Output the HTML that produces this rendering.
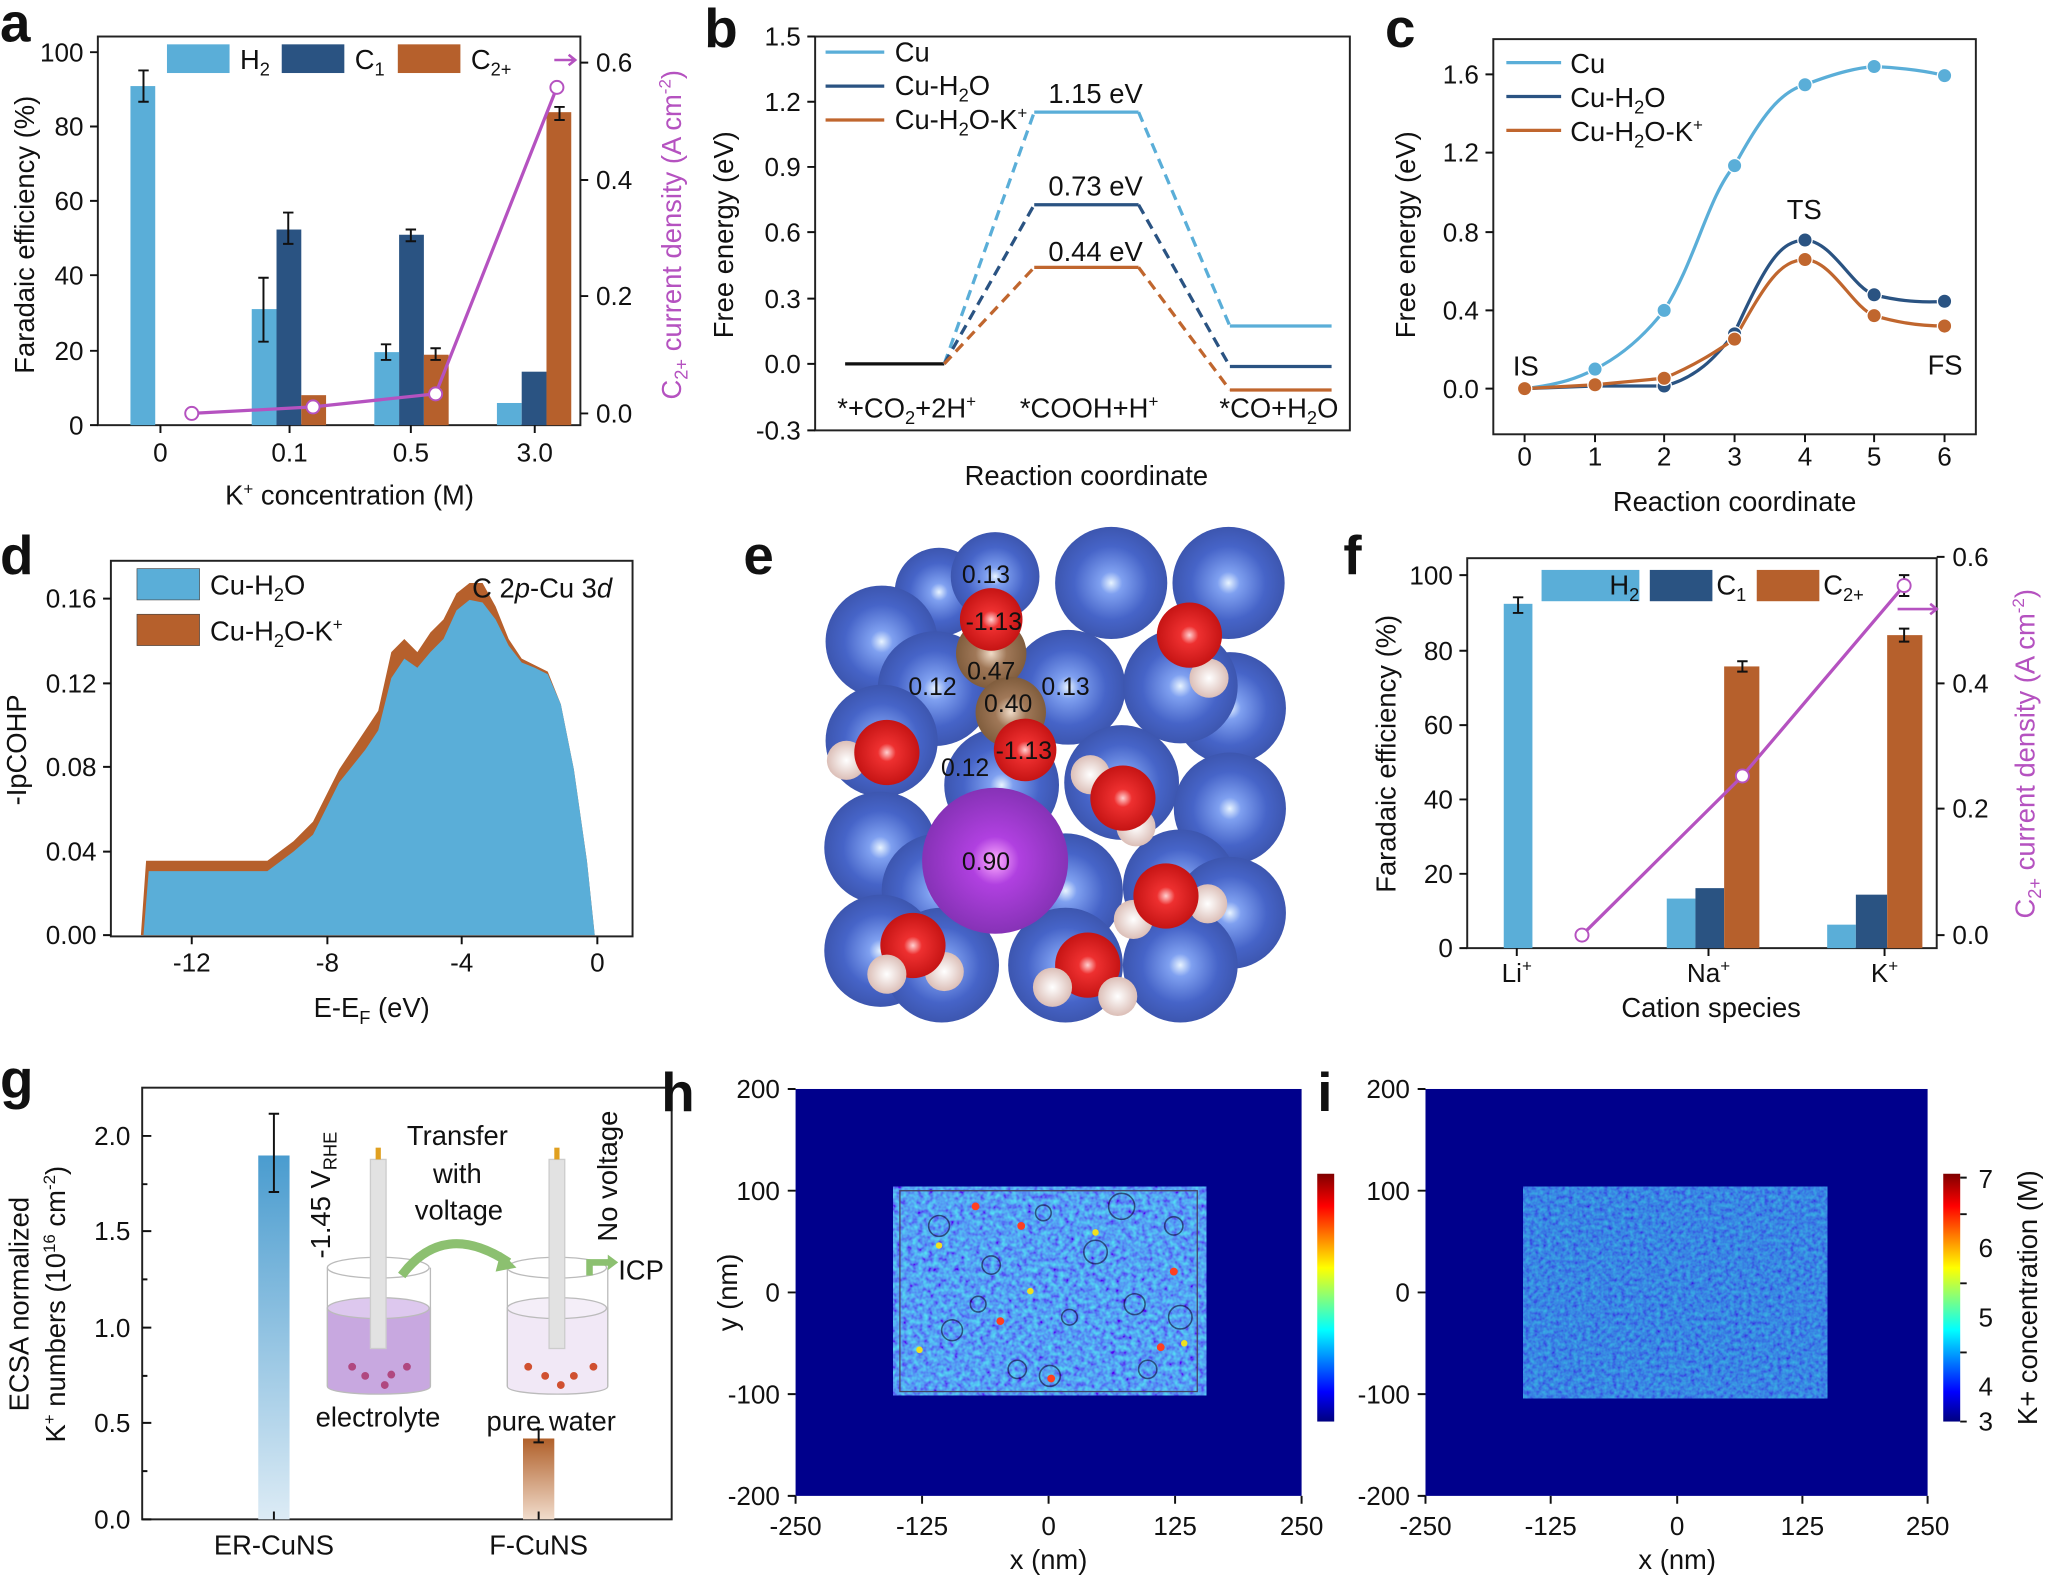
<!DOCTYPE html>
<html><head><meta charset="utf-8"><style>
html,body{margin:0;padding:0;background:#fff}
svg{display:block}
text{font-family:"Liberation Sans",Arial,sans-serif;fill:#111}
.t{font-size:20px}
.ti{font-size:21px}
.L{font-size:42px;font-weight:bold}
</style></head><body>
<svg width="2045" height="1580" viewBox="0 0 1568 1211.5" xmlns="http://www.w3.org/2000/svg">
<defs>
<radialGradient id="cu" cx="0.5" cy="0.5" r="0.55"><stop offset="0" stop-color="#e8f4ff"/><stop offset="0.18" stop-color="#7fa0f0"/><stop offset="0.6" stop-color="#4664c8"/><stop offset="1" stop-color="#3a52a8"/></radialGradient>
<radialGradient id="ox" cx="0.5" cy="0.5" r="0.55"><stop offset="0" stop-color="#ffd0d0"/><stop offset="0.25" stop-color="#ee3030"/><stop offset="1" stop-color="#c01010"/></radialGradient>
<radialGradient id="hy" cx="0.5" cy="0.5" r="0.55"><stop offset="0" stop-color="#fff"/><stop offset="1" stop-color="#d8b8b0"/></radialGradient>
<radialGradient id="kk" cx="0.5" cy="0.5" r="0.55"><stop offset="0" stop-color="#ffb0ff"/><stop offset="0.3" stop-color="#b040e0"/><stop offset="1" stop-color="#8030b0"/></radialGradient>
<radialGradient id="cc" cx="0.5" cy="0.5" r="0.55"><stop offset="0" stop-color="#f0dcc8"/><stop offset="0.4" stop-color="#a07858"/><stop offset="1" stop-color="#7a5838"/></radialGradient>
<linearGradient id="gb" x1="0" y1="0" x2="0" y2="1"><stop offset="0" stop-color="#4a9ccf"/><stop offset="1" stop-color="#dcebf5"/></linearGradient>
<linearGradient id="go" x1="0" y1="0" x2="0" y2="1"><stop offset="0" stop-color="#b0602a"/><stop offset="1" stop-color="#f1dccc"/></linearGradient>
<linearGradient id="jet" x1="0" y1="1" x2="0" y2="0"><stop offset="0" stop-color="#00007f"/><stop offset="0.12" stop-color="#0000ff"/><stop offset="0.37" stop-color="#00ffff"/><stop offset="0.62" stop-color="#ffff00"/><stop offset="0.87" stop-color="#ff0000"/><stop offset="1" stop-color="#7f0000"/></linearGradient>
<filter id="noise1" x="0" y="0" width="100%" height="100%"><feTurbulence type="fractalNoise" baseFrequency="0.25" numOctaves="2" seed="3"/><feColorMatrix type="matrix" values="0 0 0 0 0.1  0 0 0 1.2 -0.2  0 0 0 0 0.95  0 0 0 0 1"/></filter>
<filter id="noise2" x="0" y="0" width="100%" height="100%"><feTurbulence type="fractalNoise" baseFrequency="0.3" numOctaves="2" seed="7"/><feColorMatrix type="matrix" values="0 0 0 0 0.05  0 0 0 0.7 -0.05  0 0 0 0 0.85  0 0 0 0 1"/></filter>
</defs>

<!-- ============ a ============ -->
<text x="0" y="32" class="L">a</text>
<rect x="75" y="28" width="370" height="298" fill="none" stroke="#222" stroke-width="1.5"/>
<g fill="#5aaed8">
<rect x="100" y="66" width="19" height="260"/><rect x="193" y="237" width="19" height="89"/><rect x="287" y="270" width="19" height="56"/><rect x="381" y="309" width="19" height="17"/></g>
<g fill="#2a5382"><rect x="212" y="176" width="19" height="150"/><rect x="306" y="180" width="19" height="146"/><rect x="400" y="285" width="19" height="41"/></g>
<g fill="#b6602c"><rect x="231" y="303" width="19" height="23"/><rect x="325" y="272" width="19" height="54"/><rect x="419" y="86" width="19" height="240"/></g>
<g stroke="#111" stroke-width="1.5" fill="none">
<path d="M110 54v24M106 54h8M106 78h8M202 213v49M198 213h8M198 262h8M221 163v24M217 163h8M217 187h8M296 264v12M292 264h8M292 276h8M315 176v9M311 176h8M311 185h8M334 267v9M330 267h8M330 276h8M429 82v10M425 82h8M425 92h8"/>
<path d="M75 326h-6M75 269h-6M75 211h-6M75 154h-6M75 97h-6M75 40h-6M445 317h6M445 227h6M445 138h6M445 48h6M123 326v6M222 326v6M315 326v6M410 326v6"/>
</g>
<polyline points="147,317 240,312 334,302 427,67" fill="none" stroke="#b552c0" stroke-width="2.5"/>
<g fill="#fff" stroke="#b552c0" stroke-width="1.5"><circle cx="147" cy="317" r="5"/><circle cx="240" cy="312" r="5"/><circle cx="334" cy="302" r="5"/><circle cx="427" cy="67" r="5"/></g>
<path d="M425 46h16M436 42l5 4-5 4" stroke="#b552c0" stroke-width="2" fill="none"/>
<g class="t" text-anchor="end"><text x="64" y="333">0</text><text x="64" y="276">20</text><text x="64" y="218">40</text><text x="64" y="161">60</text><text x="64" y="104">80</text><text x="64" y="47">100</text></g>
<g class="t"><text x="457" y="324">0.0</text><text x="457" y="234">0.2</text><text x="457" y="145">0.4</text><text x="457" y="55">0.6</text></g>
<g class="t" text-anchor="middle"><text x="123" y="354">0</text><text x="222" y="354">0.1</text><text x="315" y="354">0.5</text><text x="410" y="354">3.0</text></g>
<text x="268" y="387" class="ti" text-anchor="middle">K<tspan font-size="13" dy="-8">+</tspan><tspan dy="8"> concentration (M)</tspan></text>
<text transform="translate(26,180) rotate(-90)" class="ti" text-anchor="middle">Faradaic efficiency (%)</text>
<text transform="translate(522,180) rotate(-90)" class="ti" text-anchor="middle" style="fill:#b552c0">C<tspan font-size="14" dy="5">2+</tspan><tspan dy="-5"> current density (A cm</tspan><tspan font-size="13" dy="-8">-2</tspan><tspan dy="8">)</tspan></text>
<rect x="128" y="34" width="48" height="22" fill="#5aaed8"/><text x="184" y="53" class="ti">H<tspan font-size="14" dy="5">2</tspan></text>
<rect x="216" y="34" width="48" height="22" fill="#2a5382"/><text x="272" y="53" class="ti">C<tspan font-size="14" dy="5">1</tspan></text>
<rect x="305" y="34" width="48" height="22" fill="#b6602c"/><text x="361" y="53" class="ti">C<tspan font-size="14" dy="5">2+</tspan></text>

<!-- ============ b ============ -->
<text x="540" y="36" class="L">b</text>
<rect x="625" y="28" width="410" height="302" fill="none" stroke="#222" stroke-width="1.5"/>
<g stroke="#111" stroke-width="1.5"><path d="M625 28h-6M625 78h-6M625 128h-6M625 178h-6M625 229h-6M625 279h-6M625 330h-6"/></g>
<g class="t" text-anchor="end"><text x="614" y="35">1.5</text><text x="614" y="85">1.2</text><text x="614" y="135">0.9</text><text x="614" y="185">0.6</text><text x="614" y="236">0.3</text><text x="614" y="286">0.0</text><text x="614" y="337">-0.3</text></g>
<text transform="translate(562,180) rotate(-90)" class="ti" text-anchor="middle">Free energy (eV)</text>
<text x="833" y="372" class="ti" text-anchor="middle">Reaction coordinate</text>
<path d="M648 279h76" stroke="#111" stroke-width="2.5"/>
<g stroke-width="2.5" fill="none">
<path d="M793 86h80" stroke="#5aaed8"/><path d="M724 279L793 86M873 86L943 250" stroke="#5aaed8" stroke-dasharray="8,5"/><path d="M943 250h78" stroke="#5aaed8"/>
<path d="M793 157h80" stroke="#2a5382"/><path d="M724 279L793 157M873 157L943 281" stroke="#2a5382" stroke-dasharray="8,5"/><path d="M943 281h78" stroke="#2a5382"/>
<path d="M793 205h80" stroke="#c0662e"/><path d="M724 279L793 205M873 205L943 299" stroke="#c0662e" stroke-dasharray="8,5"/><path d="M943 299h78" stroke="#c0662e"/>
</g>
<g class="ti" text-anchor="middle"><text x="840" y="79">1.15 eV</text><text x="840" y="150">0.73 eV</text><text x="840" y="200">0.44 eV</text></g>
<g class="ti"><text x="642" y="320">*+CO<tspan font-size="14" dy="5">2</tspan><tspan dy="-5">+2H</tspan><tspan font-size="13" dy="-8">+</tspan></text><text x="782" y="320">*COOH+H<tspan font-size="13" dy="-8">+</tspan></text><text x="935" y="320">*CO+H<tspan font-size="14" dy="5">2</tspan><tspan dy="-5">O</tspan></text></g>
<g stroke-width="2.5"><path d="M633 40h45" stroke="#5aaed8"/><path d="M633 66h45" stroke="#2a5382"/><path d="M633 92h45" stroke="#c0662e"/></g>
<g class="ti"><text x="686" y="47">Cu</text><text x="686" y="73">Cu-H<tspan font-size="14" dy="5">2</tspan><tspan dy="-5">O</tspan></text><text x="686" y="99">Cu-H<tspan font-size="14" dy="5">2</tspan><tspan dy="-5">O-K</tspan><tspan font-size="13" dy="-8">+</tspan></text></g>

<!-- ============ c ============ -->
<text x="1062" y="36" class="L">c</text>
<rect x="1145" y="30" width="370" height="303" fill="none" stroke="#222" stroke-width="1.5"/>
<g stroke="#111" stroke-width="1.5"><path d="M1145 298h-6M1145 238h-6M1145 178h-6M1145 117h-6M1145 57h-6M1169 333v6M1223 333v6M1276 333v6M1330 333v6M1384 333v6M1437 333v6M1491 333v6"/></g>
<g class="t" text-anchor="end"><text x="1134" y="305">0.0</text><text x="1134" y="245">0.4</text><text x="1134" y="185">0.8</text><text x="1134" y="124">1.2</text><text x="1134" y="64">1.6</text></g>
<g class="t" text-anchor="middle"><text x="1169" y="357">0</text><text x="1223" y="357">1</text><text x="1276" y="357">2</text><text x="1330" y="357">3</text><text x="1384" y="357">4</text><text x="1437" y="357">5</text><text x="1491" y="357">6</text></g>
<text transform="translate(1085,180) rotate(-90)" class="ti" text-anchor="middle">Free energy (eV)</text>
<text x="1330" y="392" class="ti" text-anchor="middle">Reaction coordinate</text>
<g fill="none" stroke-width="2.5">
<path d="M1169 298C1195 295 1210 290 1223 283C1245 272 1262 256 1276 238C1300 200 1310 150 1330 127C1350 90 1365 70 1384 65C1410 55 1425 52 1437 51C1460 52 1480 55 1491 58" stroke="#5aaed8"/>
<path d="M1169 298L1223 296L1276 296C1300 290 1315 275 1330 255C1355 200 1365 185 1384 184C1405 185 1420 220 1437 226C1460 232 1480 232 1491 231" stroke="#2a5382"/>
<path d="M1169 298L1223 295L1276 290C1300 280 1315 270 1330 260C1355 215 1365 200 1384 199C1405 200 1420 235 1437 242C1460 249 1480 250 1491 250" stroke="#c0662e"/>
</g>
<g stroke="#fff" stroke-width="1"><g fill="#5aaed8"><circle cx="1223" cy="283" r="5.5"/><circle cx="1276" cy="238" r="5.5"/><circle cx="1330" cy="127" r="5.5"/><circle cx="1384" cy="65" r="5.5"/><circle cx="1437" cy="51" r="5.5"/><circle cx="1491" cy="58" r="5.5"/></g>
<g fill="#2a5382"><circle cx="1276" cy="296" r="5.5"/><circle cx="1330" cy="256" r="5.5"/><circle cx="1384" cy="184" r="5.5"/><circle cx="1437" cy="226" r="5.5"/><circle cx="1491" cy="231" r="5.5"/></g>
<g fill="#c0662e"><circle cx="1169" cy="298" r="5.5"/><circle cx="1223" cy="295" r="5.5"/><circle cx="1276" cy="290" r="5.5"/><circle cx="1330" cy="260" r="5.5"/><circle cx="1384" cy="199" r="5.5"/><circle cx="1437" cy="242" r="5.5"/><circle cx="1491" cy="250" r="5.5"/></g></g>
<g class="ti"><text x="1160" y="288">IS</text><text x="1370" y="168">TS</text><text x="1478" y="287">FS</text></g>
<g stroke-width="2.5"><path d="M1155 48h42" stroke="#5aaed8"/><path d="M1155 74h42" stroke="#2a5382"/><path d="M1155 100h42" stroke="#c0662e"/></g>
<g class="ti"><text x="1204" y="56">Cu</text><text x="1204" y="82">Cu-H<tspan font-size="14" dy="5">2</tspan><tspan dy="-5">O</tspan></text><text x="1204" y="108">Cu-H<tspan font-size="14" dy="5">2</tspan><tspan dy="-5">O-K</tspan><tspan font-size="13" dy="-8">+</tspan></text></g>

<!-- ============ d ============ -->
<text x="0" y="440" class="L">d</text>
<rect x="85" y="430" width="400" height="288" fill="none" stroke="#222" stroke-width="1.5"/>
<path d="M108 717L112 660L205 660L225 645L240 630L260 590L280 560L290 545L300 500L310 490L320 500L330 485L340 475L350 455L360 447L370 447L380 465L390 490L400 505L410 510L420 515L430 540L440 590L450 660L456 717Z" fill="#b6602c"/>
<path d="M110 717L114 668L205 668L225 653L240 640L260 600L280 575L290 560L300 520L310 505L320 512L330 500L340 490L350 468L360 460L370 462L380 475L390 495L400 508L410 512L420 517L430 540L440 590L450 660L456 717Z" fill="#5aaed8"/>
<g stroke="#111" stroke-width="1.5"><path d="M85 717h-6M85 653h-6M85 588h-6M85 524h-6M85 459h-6M147 718v6M251 718v6M354 718v6M458 718v6"/></g>
<g class="t" text-anchor="end"><text x="74" y="724">0.00</text><text x="74" y="660">0.04</text><text x="74" y="595">0.08</text><text x="74" y="531">0.12</text><text x="74" y="466">0.16</text></g>
<g class="t" text-anchor="middle"><text x="147" y="745">-12</text><text x="251" y="745">-8</text><text x="354" y="745">-4</text><text x="458" y="745">0</text></g>
<text transform="translate(20,575) rotate(-90)" class="ti" text-anchor="middle">-IpCOHP</text>
<text x="285" y="780" class="ti" text-anchor="middle">E-E<tspan font-size="14" dy="5">F</tspan><tspan dy="-5"> (eV)</tspan></text>
<rect x="105" y="436" width="48" height="24" fill="#5aaed8" stroke="#444" stroke-width="0.5"/><text x="161" y="456" class="ti">Cu-H<tspan font-size="14" dy="5">2</tspan><tspan dy="-5">O</tspan></text>
<rect x="105" y="471" width="48" height="24" fill="#b6602c" stroke="#444" stroke-width="0.5"/><text x="161" y="491" class="ti">Cu-H<tspan font-size="14" dy="5">2</tspan><tspan dy="-5">O-K</tspan><tspan font-size="13" dy="-8">+</tspan></text>
<text x="362" y="458" class="ti">C 2<tspan font-style="italic">p</tspan>-Cu 3<tspan font-style="italic">d</tspan></text>

<!-- ============ e ============ -->
<text x="570" y="440" class="L">e</text>
<g>
<g fill="url(#cu)">
<circle cx="720" cy="454" r="34"/><circle cx="763" cy="442" r="34"/><circle cx="852" cy="447" r="43"/><circle cx="942" cy="447" r="43"/>
<circle cx="676" cy="492" r="43"/><circle cx="943" cy="543" r="43"/><circle cx="717" cy="528" r="44"/><circle cx="819" cy="527" r="44"/><circle cx="905" cy="526" r="44"/>
<circle cx="676" cy="568" r="43"/><circle cx="768" cy="602" r="44"/><circle cx="860" cy="600" r="44"/><circle cx="943" cy="620" r="43"/>
<circle cx="675" cy="650" r="43"/><circle cx="720" cy="683" r="44"/><circle cx="817" cy="683" r="44"/><circle cx="905" cy="680" r="44"/><circle cx="943" cy="700" r="43"/>
<circle cx="675" cy="729" r="43"/><circle cx="722" cy="740" r="44"/><circle cx="817" cy="740" r="44"/><circle cx="905" cy="740" r="44"/>
</g>
<circle cx="760" cy="501" r="27" fill="url(#cc)"/><circle cx="775" cy="546" r="27" fill="url(#cc)"/>
<circle cx="760" cy="475" r="24" fill="url(#ox)"/><circle cx="786" cy="575" r="24" fill="url(#ox)"/>
<circle cx="763" cy="660" r="56" fill="url(#kk)"/>
<circle cx="649" cy="583" r="15" fill="url(#hy)"/><circle cx="680" cy="577" r="25" fill="url(#ox)"/>
<circle cx="927" cy="520" r="15" fill="url(#hy)"/><circle cx="912" cy="487" r="25" fill="url(#ox)"/>
<circle cx="836" cy="594" r="15" fill="url(#hy)"/><circle cx="871" cy="634" r="15" fill="url(#hy)"/><circle cx="861" cy="612" r="25" fill="url(#ox)"/>
<circle cx="869" cy="705" r="15" fill="url(#hy)"/><circle cx="926" cy="693" r="15" fill="url(#hy)"/><circle cx="894" cy="687" r="25" fill="url(#ox)"/>
<circle cx="724" cy="745" r="15" fill="url(#hy)"/><circle cx="700" cy="725" r="25" fill="url(#ox)"/><circle cx="680" cy="747" r="15" fill="url(#hy)"/>
<circle cx="834" cy="740" r="25" fill="url(#ox)"/><circle cx="807" cy="757" r="15" fill="url(#hy)"/><circle cx="857" cy="764" r="15" fill="url(#hy)"/>
<g class="t" text-anchor="middle" font-size="19"><text x="756" y="447" font-size="19">0.13</text><text x="762" y="483" font-size="19">-1.13</text><text x="760" y="521" font-size="19">0.47</text><text x="715" y="533" font-size="19">0.12</text><text x="817" y="533" font-size="19">0.13</text><text x="773" y="546" font-size="19">0.40</text><text x="785" y="582" font-size="19">-1.13</text><text x="740" y="595" font-size="19">0.12</text><text x="756" y="667" font-size="19">0.90</text></g>
</g>

<!-- ============ f ============ -->
<text x="1030" y="440" class="L">f</text>
<rect x="1125" y="428" width="360" height="299" fill="none" stroke="#222" stroke-width="1.5"/>
<rect x="1153" y="463" width="22" height="264" fill="#5aaed8"/>
<rect x="1278" y="689" width="22" height="38" fill="#5aaed8"/><rect x="1300" y="681" width="22" height="46" fill="#2a5382"/><rect x="1322" y="511" width="27" height="216" fill="#b6602c"/>
<rect x="1401" y="709" width="22" height="18" fill="#5aaed8"/><rect x="1423" y="686" width="24" height="41" fill="#2a5382"/><rect x="1447" y="487" width="27" height="240" fill="#b6602c"/>
<g stroke="#111" stroke-width="1.5" fill="none"><path d="M1164 458v12M1160 458h8M1160 470h8M1336 507v8M1332 507h8M1332 515h8M1460 482v10M1456 482h8M1456 492h8M1460 441v16M1456 441h8M1456 457h8"/>
<path d="M1125 727h-6M1125 670h-6M1125 613h-6M1125 556h-6M1125 499h-6M1125 441h-6M1485 717h6M1485 620h6M1485 524h6M1485 427h6M1163 727v6M1310 727v6M1445 727v6"/></g>
<polyline points="1213,717 1336,595 1460,449" fill="none" stroke="#b552c0" stroke-width="2.5"/>
<g fill="#fff" stroke="#b552c0" stroke-width="1.5"><circle cx="1213" cy="717" r="5"/><circle cx="1336" cy="595" r="5"/><circle cx="1460" cy="449" r="5"/></g>
<path d="M1455 467h30M1480 463l5 4-5 4" stroke="#b552c0" stroke-width="2" fill="none"/>
<g class="t" text-anchor="end"><text x="1114" y="734">0</text><text x="1114" y="677">20</text><text x="1114" y="620">40</text><text x="1114" y="563">60</text><text x="1114" y="506">80</text><text x="1114" y="448">100</text></g>
<g class="t"><text x="1497" y="724">0.0</text><text x="1497" y="627">0.2</text><text x="1497" y="531">0.4</text><text x="1497" y="434">0.6</text></g>
<g class="t" text-anchor="middle"><text x="1163" y="753">Li<tspan font-size="13" dy="-8">+</tspan></text><text x="1310" y="753">Na<tspan font-size="13" dy="-8">+</tspan></text><text x="1445" y="753">K<tspan font-size="13" dy="-8">+</tspan></text></g>
<text x="1312" y="780" class="ti" text-anchor="middle">Cation species</text>
<text transform="translate(1070,578) rotate(-90)" class="ti" text-anchor="middle">Faradaic efficiency (%)</text>
<text transform="translate(1560,578) rotate(-90)" class="ti" text-anchor="middle" style="fill:#b552c0">C<tspan font-size="14" dy="5">2+</tspan><tspan dy="-5"> current density (A cm</tspan><tspan font-size="13" dy="-8">-2</tspan><tspan dy="8">)</tspan></text>
<rect x="1182" y="437" width="75" height="24" fill="#5aaed8"/><text x="1234" y="456" class="ti">H<tspan font-size="14" dy="5">2</tspan></text>
<rect x="1265" y="437" width="48" height="24" fill="#2a5382"/><text x="1316" y="456" class="ti">C<tspan font-size="14" dy="5">1</tspan></text>
<rect x="1347" y="437" width="48" height="24" fill="#b6602c"/><text x="1398" y="456" class="ti">C<tspan font-size="14" dy="5">2+</tspan></text>

<!-- ============ g ============ -->
<text x="0" y="842" class="L">g</text>
<rect x="109" y="834" width="406" height="331" fill="none" stroke="#222" stroke-width="1.5"/>
<rect x="198" y="886" width="24" height="279" fill="url(#gb)"/>
<rect x="401" y="1103" width="24" height="62" fill="url(#go)"/>
<g stroke="#111" stroke-width="1.5" fill="none"><path d="M210 854v60M206 854h8M206 914h8M413 1096v10M409 1096h8M409 1106h8"/>
<path d="M109 1165h7M109 1091h7M109 1018h7M109 944h7M109 871h7M109 1128h4M109 1055h4M109 981h4M109 908h4M210 1165v-6M413 1165v-6"/></g>
<g class="t" text-anchor="end"><text x="100" y="1172">0.0</text><text x="100" y="1098">0.5</text><text x="100" y="1025">1.0</text><text x="100" y="951">1.5</text><text x="100" y="878">2.0</text></g>
<g class="ti" text-anchor="middle"><text x="210" y="1192">ER-CuNS</text><text x="413" y="1192">F-CuNS</text></g>
<text transform="translate(22,1000) rotate(-90)" class="ti" text-anchor="middle">ECSA normalized</text>
<text transform="translate(50,1000) rotate(-90)" class="ti" text-anchor="middle">K<tspan font-size="13" dy="-8">+</tspan><tspan dy="8"> numbers (10</tspan><tspan font-size="13" dy="-8">16</tspan><tspan dy="8"> cm</tspan><tspan font-size="13" dy="-8">-2</tspan><tspan dy="8">)</tspan></text>
<!-- schematic -->
<path d="M251 1003v60c0 8 79 8 79 0v-60z" fill="#c8a8e0" stroke="#bbb"/>
<ellipse cx="290" cy="972" rx="39" ry="8" fill="none" stroke="#bbb"/><path d="M251 972v91M330 972v91" stroke="#bbb"/>
<ellipse cx="290" cy="1003" rx="39" ry="8" fill="#ddc8ee" stroke="#bbb"/>
<rect x="284" y="889" width="12" height="145" fill="#e2e2e2" stroke="#ccc"/><rect x="288" y="880" width="4" height="9" fill="#e0a020"/>
<path d="M389 1003v60c0 8 77 8 77 0v-60z" fill="#f1e8f6" stroke="#bbb"/>
<ellipse cx="427" cy="972" rx="38" ry="8" fill="none" stroke="#bbb"/><path d="M389 972v91M466 972v91" stroke="#bbb"/>
<ellipse cx="427" cy="1003" rx="38" ry="8" fill="#f4eef8" stroke="#bbb"/>
<rect x="421" y="889" width="12" height="145" fill="#e2e2e2" stroke="#ccc"/><rect x="425" y="880" width="4" height="9" fill="#e0a020"/>
<g fill="#b04880"><circle cx="270" cy="1048" r="3"/><circle cx="280" cy="1055" r="3"/><circle cx="295" cy="1062" r="3"/><circle cx="312" cy="1048" r="3"/><circle cx="300" cy="1054" r="3"/></g>
<g fill="#d05030"><circle cx="405" cy="1048" r="3"/><circle cx="418" cy="1055" r="3"/><circle cx="430" cy="1062" r="3"/><circle cx="440" cy="1055" r="3"/><circle cx="455" cy="1048" r="3"/></g>
<path d="M308 978Q340 935 390 968" stroke="#8cc070" stroke-width="7" fill="none"/><path d="M384 960l12 12-16 3z" fill="#8cc070"/>
<path d="M452 978v-10h16" stroke="#8cc070" stroke-width="5" fill="none"/><path d="M466 962l8 6-8 6z" fill="#8cc070"/>
<g class="ti"><text x="312" y="878">Transfer</text><text x="332" y="907">with</text><text x="318" y="935">voltage</text><text x="474" y="981">ICP</text><text x="242" y="1094">electrolyte</text><text x="373" y="1097">pure water</text></g>
<text transform="translate(253,965) rotate(-90)" class="ti">-1.45 V<tspan font-size="14" dy="5">RHE</tspan></text>
<text transform="translate(473,952) rotate(-90)" class="ti">No voltage</text>

<!-- ============ h ============ -->
<text x="507" y="852" class="L">h</text>
<rect x="610" y="835" width="388" height="312" fill="#00008c"/>
<rect x="685" y="910" width="240" height="160" fill="#2050e0" filter="url(#noise1)" opacity="0.95"/>
<rect x="690" y="913" width="228" height="154" fill="none" stroke="#446" stroke-width="1"/>
<g fill="none" stroke="#113" stroke-width="1.2" opacity="0.6">
<circle cx="720" cy="940" r="8"/><circle cx="760" cy="970" r="7"/><circle cx="800" cy="930" r="6"/><circle cx="840" cy="960" r="9"/><circle cx="870" cy="1000" r="8"/><circle cx="900" cy="940" r="7"/><circle cx="730" cy="1020" r="8"/><circle cx="780" cy="1050" r="7"/><circle cx="820" cy="1010" r="6"/><circle cx="860" cy="925" r="10"/><circle cx="905" cy="1010" r="9"/><circle cx="750" cy="1000" r="6"/><circle cx="805" cy="1055" r="8"/><circle cx="880" cy="1050" r="7"/></g>
<g fill="#ff4020"><circle cx="748" cy="925" r="3"/><circle cx="783" cy="940" r="3"/><circle cx="900" cy="975" r="3"/><circle cx="767" cy="1013" r="3"/><circle cx="890" cy="1033" r="3"/><circle cx="806" cy="1057" r="3"/></g>
<g fill="#f0e020"><circle cx="720" cy="955" r="2.5"/><circle cx="840" cy="945" r="2.5"/><circle cx="705" cy="1035" r="2.5"/><circle cx="908" cy="1030" r="2.5"/><circle cx="790" cy="990" r="2.5"/></g>
<rect x="1010" y="900" width="13" height="190" fill="url(#jet)"/>
<g stroke="#111" stroke-width="1.5"><path d="M610 1147v6M707 1147v6M804 1147v6M901 1147v6M998 1147v6M610 835h-6M610 913h-6M610 991h-6M610 1069h-6M610 1147h-6"/></g>
<g class="t" text-anchor="middle"><text x="610" y="1177">-250</text><text x="707" y="1177">-125</text><text x="804" y="1177">0</text><text x="901" y="1177">125</text><text x="998" y="1177">250</text></g>
<g class="t" text-anchor="end"><text x="598" y="842">200</text><text x="598" y="920">100</text><text x="598" y="998">0</text><text x="598" y="1076">-100</text><text x="598" y="1154">-200</text></g>
<text x="804" y="1203" class="ti" text-anchor="middle">x (nm)</text>
<text transform="translate(565,991) rotate(-90)" class="ti" text-anchor="middle">y (nm)</text>

<!-- ============ i ============ -->
<text x="1010" y="852" class="L">i</text>
<rect x="1093" y="835" width="385" height="312" fill="#00008c"/>
<rect x="1168" y="910" width="233" height="162" fill="#1030d0" filter="url(#noise2)" opacity="0.9"/>
<rect x="1490" y="900" width="13" height="190" fill="url(#jet)"/>
<g stroke="#111" stroke-width="1.5"><path d="M1093 1147v6M1189 1147v6M1286 1147v6M1382 1147v6M1478 1147v6M1093 835h-6M1093 913h-6M1093 991h-6M1093 1069h-6M1093 1147h-6M1503 1090h5M1503 1037h5M1503 984h5M1503 931h5M1503 903h5"/></g>
<g class="t" text-anchor="middle"><text x="1093" y="1177">-250</text><text x="1189" y="1177">-125</text><text x="1286" y="1177">0</text><text x="1382" y="1177">125</text><text x="1478" y="1177">250</text></g>
<g class="t" text-anchor="end"><text x="1081" y="842">200</text><text x="1081" y="920">100</text><text x="1081" y="998">0</text><text x="1081" y="1076">-100</text><text x="1081" y="1154">-200</text></g>
<g class="t"><text x="1517" y="1097">3</text><text x="1517" y="1070">4</text><text x="1517" y="1017">5</text><text x="1517" y="964">6</text><text x="1517" y="911">7</text></g>
<text x="1286" y="1203" class="ti" text-anchor="middle">x (nm)</text>
<text transform="translate(1562,995) rotate(-90)" class="ti" text-anchor="middle">K+ concentration (M)</text>
</svg>
</body></html>
